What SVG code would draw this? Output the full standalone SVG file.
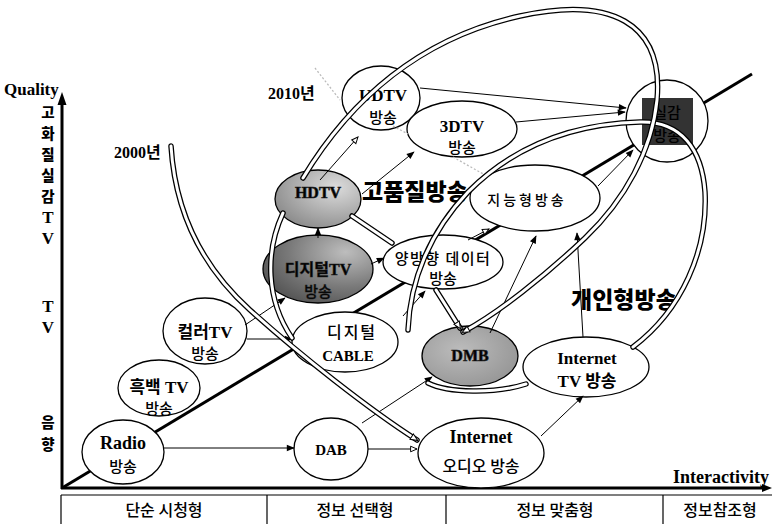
<svg xmlns="http://www.w3.org/2000/svg" width="772" height="524" viewBox="0 0 772 524">
<defs>
<style>
.node{fill:#fff;stroke:#000;stroke-width:1.3}
.ser{font-family:"Liberation Serif","Noto Sans CJK KR",serif;font-weight:bold;fill:#000}
.kr{font-family:"Noto Sans CJK KR",sans-serif;font-weight:500;fill:#000}
.krb{font-family:"Noto Sans CJK KR",sans-serif;font-weight:900;fill:#000}
.mid{text-anchor:middle}
.arr{fill:none;stroke:#000;stroke-width:1;marker-end:url(#af)}
.arro{fill:none;stroke:#000;stroke-width:1;marker-end:url(#ao)}
.tubeO{fill:none;stroke:#000;stroke-width:5.5;stroke-linecap:round}
.tubeI{fill:none;stroke:#fff;stroke-width:3;stroke-linecap:round}
.faint{fill:none;stroke:#bbb;stroke-width:1.3;stroke-dasharray:2 2}
.tbl{fill:none;stroke:#000;stroke-width:1.2}
</style>
<marker id="af" viewBox="0 0 10 10" refX="9" refY="5" markerWidth="10" markerHeight="8" orient="auto" markerUnits="userSpaceOnUse">
<path d="M0,1 L10,5 L0,9 z" fill="#000"/>
</marker>
<marker id="ao" viewBox="0 0 10 10" refX="9" refY="5" markerWidth="10" markerHeight="8" orient="auto" markerUnits="userSpaceOnUse">
<path d="M1,1.5 L9,5 L1,8.5 z" fill="#fff" stroke="#000" stroke-width="1.2"/>
</marker>
<marker id="to" viewBox="0 0 10 10" refX="8" refY="5" markerWidth="9" markerHeight="9" orient="auto" markerUnits="userSpaceOnUse">
<path d="M1,1.5 L9,5 L1,8.5 z" fill="#fff" stroke="#000" stroke-width="1.1"/>
</marker>
<radialGradient id="gHD" cx="0.7" cy="0.3" r="0.8">
<stop offset="0" stop-color="#dcdcdc"/>
<stop offset="1" stop-color="#8a8a8a"/>
</radialGradient>
<radialGradient id="gDTV" cx="0.75" cy="0.25" r="0.85">
<stop offset="0" stop-color="#bdbdbd"/>
<stop offset="0.6" stop-color="#7a7a7a"/>
<stop offset="1" stop-color="#555"/>
</radialGradient>
<radialGradient id="gDMB" cx="0.4" cy="0.4" r="0.8">
<stop offset="0" stop-color="#bcbcbc"/>
<stop offset="1" stop-color="#8e8e8e"/>
</radialGradient>
</defs>
<rect width="772" height="524" fill="#fff"/>

<g id="axes">
<line x1="62" y1="488" x2="752" y2="74" stroke="#000" stroke-width="3"/>
<line x1="62" y1="489" x2="62" y2="100" stroke="#000" stroke-width="3"/>
<polygon points="62,92 57.5,105 66.5,105" fill="#000"/>
<line x1="61" y1="488" x2="764" y2="488" stroke="#000" stroke-width="3"/>
<polygon points="772,488 762,484 762,492" fill="#000"/>
<text class="ser" x="4" y="95" font-size="17">Quality</text>
<text class="ser" x="673" y="483" font-size="18">Interactivity</text>
<g class="krb mid" font-size="14.5" font-weight="700">
<text x="48" y="118">고</text>
<text x="48" y="139">화</text>
<text x="48" y="160">질</text>
<text x="48" y="181">실</text>
<text x="48" y="202">감</text>
<text x="48" y="428">음</text>
<text x="48" y="450">향</text>
</g>
<g class="ser mid" font-size="17">
<text x="48" y="223">T</text>
<text x="48" y="244">V</text>
<text x="48" y="312">T</text>
<text x="48" y="333">V</text>
</g>
<text class="ser" x="114" y="158" font-size="16">2000년</text>
<text class="ser" x="268" y="99" font-size="16">2010년</text>
<text class="krb" x="362" y="200" font-size="23">고품질방송</text>
<text class="krb" x="571" y="308" font-size="23">개인형방송</text>
</g>

<g id="table">
<line class="tbl" x1="61" y1="495" x2="772" y2="495"/>
<line class="tbl" x1="61" y1="495" x2="61" y2="524"/>
<line class="tbl" x1="267" y1="495" x2="267" y2="524"/>
<line class="tbl" x1="446" y1="495" x2="446" y2="524"/>
<line class="tbl" x1="663" y1="495" x2="663" y2="524"/>
<g class="kr mid" font-size="16" font-weight="700">
<text x="164" y="516">단순 시청형</text>
<text x="355" y="516">정보 선택형</text>
<text x="555" y="516">정보 맞춤형</text>
<text x="720" y="516">정보참조형</text>
</g>
</g>

<g id="n-radio">
<ellipse class="node" cx="123" cy="452" rx="41" ry="32"/>
<text class="ser mid" x="123" y="449" font-size="18">Radio</text>
<text class="kr mid" x="123" y="472" font-size="15">방송</text>
</g>
<g id="n-bw">
<ellipse class="node" cx="159" cy="388" rx="41" ry="28"/>
<text class="ser mid" x="159" y="393" font-size="17">흑백 TV</text>
<text class="kr mid" x="159" y="414" font-size="15">방송</text>
</g>
<g id="n-color">
<ellipse class="node" cx="205" cy="331" rx="42" ry="33"/>
<text class="ser mid" x="205" y="338" font-size="17">컬러TV</text>
<text class="kr mid" x="205" y="359" font-size="15">방송</text>
</g>
<g id="n-dcable">
<ellipse class="node" cx="345" cy="342" rx="53" ry="30"/>
<text class="kr mid" x="352" y="338" font-size="16" font-weight="400" letter-spacing="2">디지털</text>
<text class="ser mid" x="348" y="361" font-size="15" fill="#444">CABLE</text>
</g>
<g id="n-dtv">
<ellipse class="node" cx="318" cy="269" rx="55" ry="34" style="fill:url(#gDTV)"/>
<text class="ser mid" x="318" y="275" font-size="16" fill="#ddd" stroke="#222" stroke-width="0.5">디지털TV</text>
<text class="kr mid" x="318" y="297" font-size="15" fill="#ddd" stroke="#222" stroke-width="0.5">방송</text>
</g>
<g id="n-hdtv">
<ellipse class="node" cx="318" cy="199" rx="43" ry="29" style="fill:url(#gHD)"/>
<text class="ser mid" x="318" y="198" font-size="16" fill="#eee" stroke="#222" stroke-width="0.6">HDTV</text>
</g>
<g id="n-udtv">
<ellipse class="node" cx="381" cy="98" rx="39" ry="32"/>
<text class="ser mid" x="383" y="101" font-size="17">UDTV</text>
<text class="kr mid" x="383" y="123" font-size="15">방송</text>
</g>
<g id="n-3dtv">
<ellipse class="node" cx="462" cy="129" rx="55" ry="28"/>
<text class="ser mid" x="462" y="132" font-size="17">3DTV</text>
<text class="kr mid" x="462" y="153" font-size="15">방송</text>
</g>
<g id="n-real">
<circle class="node" cx="667" cy="121" r="41"/>
<rect x="642" y="98" width="51" height="47" fill="#333"/>
<text class="kr mid" x="667" y="118" font-size="15" fill="#fff">실감</text>
<text class="kr mid" x="667" y="141" font-size="15" fill="#fff">방송</text>
</g>
<g id="n-smart">
<ellipse class="node" cx="535" cy="198" rx="65" ry="33"/>
<text class="kr mid" x="527" y="205" font-size="14" fill="#9a9a9a" letter-spacing="3">지능형방송</text>
</g>
<g id="n-bidir">
<ellipse class="node" cx="443" cy="262" rx="60" ry="27"/>
<text class="kr mid" x="443" y="264" font-size="15" font-weight="400" letter-spacing="1.5">양방향 데이터</text>
<text class="kr mid" x="443" y="284" font-size="15" font-weight="400">방송</text>
</g>
<g id="n-dmb">
<ellipse class="node" cx="470" cy="356" rx="48" ry="30" style="fill:url(#gDMB)"/>
<text class="ser mid" x="470" y="361" font-size="16" fill="#eee" stroke="#222" stroke-width="0.6">DMB</text>
</g>
<g id="n-itv">
<ellipse class="node" cx="586" cy="367" rx="63" ry="30"/>
<text class="ser mid" x="587" y="364" font-size="17">Internet</text>
<text class="ser mid" x="587" y="387" font-size="17">TV 방송</text>
</g>
<g id="n-iaudio">
<ellipse class="node" cx="481" cy="453" rx="63" ry="35"/>
<text class="ser mid" x="481" y="443" font-size="18">Internet</text>
<text class="kr mid" x="481" y="472" font-size="16">오디오 방송</text>
</g>
<g id="n-dab">
<ellipse class="node" cx="331" cy="449" rx="37" ry="31"/>
<text class="ser mid" x="331" y="455" font-size="15" fill="#9a9a9a">DAB</text>
</g>

<g id="connectors">
<line class="arr" x1="164" y1="448" x2="294" y2="448"/>
<line class="arro" x1="368" y1="449" x2="417" y2="449"/>
<line class="arr" x1="362" y1="423" x2="432" y2="377"/>
<line class="arr" x1="541" y1="436" x2="583" y2="396"/>
<line class="arr" x1="247" y1="339" x2="292" y2="339" stroke-width="2"/>
<line class="arr" x1="245" y1="325" x2="285" y2="298"/>
<line class="arr" x1="318" y1="238" x2="318" y2="228"/>
<line class="arr" x1="371" y1="264" x2="384" y2="258"/>
<line class="arr" x1="403" y1="316" x2="425" y2="291"/>
<line class="arro" x1="320" y1="180" x2="358" y2="137"/>
<line class="arr" x1="362" y1="194" x2="414" y2="152"/>
<line class="arr" x1="420" y1="88" x2="626" y2="108"/>
<line class="arr" x1="516" y1="122" x2="625" y2="112"/>
<line class="arr" x1="598" y1="186" x2="633" y2="150"/>
<line class="arr" x1="490" y1="333" x2="536" y2="236"/>
<line class="arr" x1="583" y1="337" x2="577" y2="233"/>
<line class="arro" x1="468" y1="240" x2="489" y2="229"/>

<path class="faint" d="M315,68 L340,100"/>
<path class="faint" d="M393,126 L408,134"/>
<path class="faint" d="M453,157 L485,175"/>

<path class="tubeO" d="M171,146 C175,210 200,265 250,310 C300,355 370,410 417,440"/>
<path class="tubeI" d="M171,146 C175,210 200,265 250,310 C300,355 370,410 417,440" marker-end="url(#to)"/>
<path class="tubeO" d="M283,213 C265,252 266,300 292,338"/>
<path class="tubeI" d="M283,213 C265,252 266,300 292,338"/>
<path class="tubeO" d="M352,216 L392,243"/>
<path class="tubeI" d="M352,216 L392,243"/>
<path class="tubeO" d="M436,290 L460,328"/>
<path class="tubeI" d="M436,290 L460,328" marker-end="url(#to)"/>
<path class="tubeO" d="M408,330 C410,280 430,232 468,192 C510,150 565,124 640,122 C682,121 702,150 705,192 C708,250 682,310 633,347"/>
<path class="tubeI" d="M408,330 C410,280 430,232 468,192 C510,150 565,124 640,122 C682,121 702,150 705,192 C708,250 682,310 633,347"/>
<path class="tubeO" d="M303,178 C350,100 420,38 520,16 C610,-4 664,22 657,100 C652,150 625,200 585,238 C545,276 498,313 463,332"/>
<path class="tubeI" d="M303,178 C350,100 420,38 520,16 C610,-4 664,22 657,100 C652,150 625,200 585,238 C545,276 498,313 463,332" marker-end="url(#to)"/>
<path class="tubeO" d="M526,384 C495,394 448,393 428,383"/>
<path class="tubeI" d="M526,384 C495,394 448,393 428,383"/>
</g>
</svg>
